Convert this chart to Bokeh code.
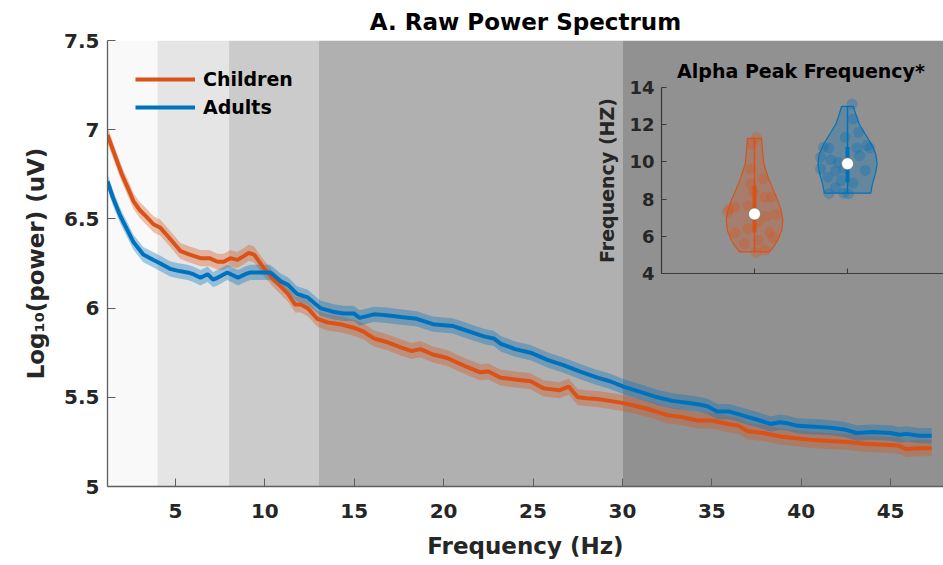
import numpy as np
from bokeh.plotting import figure
from bokeh.models import Range1d, LinearAxis, Label, Legend, LegendItem, FixedTicker
from bokeh.embed import file_html
from bokeh.resources import INLINE

FONT = "DejaVu Sans"
ORANGE = "#D95319"
BLUE = "#0072BD"
TXT = "#262626"

# ---------------- data: main spectrum ----------------
children_freq = [1.2, 1.6, 2.0, 2.4, 2.65, 3.0, 3.4, 3.77, 4.16, 4.6,
                 5.28, 5.8, 6.4, 6.9, 7.35, 7.7, 8.07, 8.45, 8.8, 9.1,
                 9.4, 9.9, 10.4, 10.9, 11.3, 11.7, 12.0, 12.4, 12.94, 13.5,
                 14.2, 14.97, 15.5, 16.1, 16.8, 17.6, 18.2, 18.7, 19.4, 20.2,
                 21.3, 22.05, 22.5, 23.2, 24.0, 24.86, 25.6, 26.5, 27.0, 27.5,
                 28.0, 28.6, 29.3, 29.9, 30.4, 30.8, 31.6, 32.5, 33.3, 34.2,
                 35.0, 35.9, 36.5, 37.0, 37.9, 38.8, 39.7, 40.7, 41.6, 42.6,
                 43.5, 44.4, 45.4, 45.9, 46.6, 47.3]
children_power = [6.97, 6.86, 6.75, 6.66, 6.60, 6.55, 6.51, 6.47, 6.45, 6.40,
                  6.32, 6.30, 6.28, 6.28, 6.26, 6.26, 6.28, 6.27, 6.29, 6.31,
                  6.30, 6.23, 6.17, 6.12, 6.08, 6.02, 6.02, 6.00, 5.94, 5.92,
                  5.91, 5.89, 5.87, 5.83, 5.81, 5.78, 5.76, 5.77, 5.74, 5.72,
                  5.67, 5.64, 5.645, 5.61, 5.60, 5.59, 5.55, 5.54, 5.56, 5.50,
                  5.495, 5.49, 5.48, 5.47, 5.46, 5.45, 5.43, 5.40, 5.39, 5.37,
                  5.37, 5.35, 5.34, 5.31, 5.30, 5.28, 5.27, 5.26, 5.255, 5.25,
                  5.24, 5.235, 5.23, 5.21, 5.215, 5.215]
adults_freq = [1.2, 1.5, 1.9, 2.3, 2.65, 3.2, 3.77, 4.16, 4.7, 5.1,
               5.67, 6.0, 6.4, 6.8, 7.1, 7.35, 7.9, 8.5, 8.9, 9.2,
               9.7, 10.3, 10.9, 11.3, 11.8, 12.4, 13.1, 13.8, 14.4, 14.97,
               15.3, 15.7, 16.1, 16.8, 17.6, 18.5, 19.4, 20.5, 21.1, 21.7,
               22.3, 22.8, 23.2, 24.0, 24.86, 25.8, 26.7, 27.6, 28.6, 29.3,
               30.06, 31.0, 31.95, 32.8, 33.6, 34.3, 34.75, 35.3, 36.0, 37.0,
               37.7, 38.3, 38.8, 39.2, 39.8, 40.7, 41.6, 42.4, 43.1, 44.0,
               45.0, 45.5, 45.9, 46.6, 47.3]
adults_power = [6.71, 6.62, 6.52, 6.44, 6.37, 6.30, 6.27, 6.25, 6.22, 6.21,
                6.20, 6.19, 6.17, 6.19, 6.16, 6.17, 6.20, 6.17, 6.19, 6.20,
                6.20, 6.20, 6.15, 6.13, 6.08, 6.06, 6.00, 5.98, 5.97, 5.97,
                5.945, 5.955, 5.965, 5.96, 5.95, 5.94, 5.91, 5.90, 5.88, 5.86,
                5.84, 5.83, 5.80, 5.77, 5.75, 5.71, 5.68, 5.645, 5.61, 5.59,
                5.56, 5.53, 5.50, 5.48, 5.47, 5.46, 5.45, 5.42, 5.42, 5.39,
                5.37, 5.35, 5.36, 5.355, 5.34, 5.335, 5.33, 5.32, 5.30, 5.305,
                5.30, 5.29, 5.295, 5.285, 5.285]
children_sem = 0.045
adults_sem = 0.043

# frequency bands (delta, theta, alpha, beta, gamma)
band_start = [0, 4, 8, 13, 30]
band_end = [4, 8, 13, 30, 60]
band_colors = ["#f9f9f9", "#e5e5e5", "#cbcbcb", "#b0b0b0", "#919191"]

x_ticks = [5, 10, 15, 20, 25, 30, 35, 40, 45]
y_ticks = [5, 5.5, 6, 6.5, 7, 7.5]
y_tick_labels = ["5", "5.5", "6", "6.5", "7", "7.5"]

# ---------------- data: inset (alpha peak frequency) ----------------
groups = ["Children", "Adults"]
group_pos = [1, 2]
children_pts_y = [11.32, 10.96, 9.63, 9.09, 8.38, 8.11, 7.48, 7.57, 7.66, 7.07,
                  7.18, 7.30, 6.77, 6.41, 6.18, 6.23, 5.93, 5.79, 5.25, 5.13,
                  5.61, 8.82, 8.11]
children_pts_dx = [0.02, -0.03, -0.04, 0.09, -0.01, 0.18, -0.27, -0.21, -0.07, 0.125,
                   0.23, -0.29, 0.04, -0.07, -0.21, 0.16, 0.20, 0.04, 0.11, 0.02,
                   -0.11, -0.04, 0.11]
adults_pts_y = [13.11, 12.30, 11.32, 11.59, 10.88, 10.79, 10.75, 10.75, 10.25, 10.11,
                9.98, 10.34, 10.75, 9.63, 9.50, 9.63, 9.18, 9.00, 8.86, 8.61,
                8.29, 8.32, 8.29, 9.54]
adults_pts_dx = [0.05, 0.06, -0.025, 0.12, 0.21, -0.26, -0.20, 0.10, -0.29, -0.18,
                 -0.10, 0.13, 0.24, -0.29, -0.13, -0.04, -0.21, -0.07, 0.06, -0.13,
                 -0.20, -0.04, 0.01, 0.19]
children_violin_y = [5.16, 5.43, 5.79, 6.32, 6.86, 7.39, 7.93, 8.55, 9.18, 9.9, 10.6, 11.27]
children_violin_hw = [0.16, 0.204, 0.25, 0.293, 0.304, 0.286, 0.25, 0.196, 0.146, 0.10, 0.086, 0.075]
adults_violin_y = [8.32, 8.82, 9.36, 9.89, 10.43, 10.96, 11.5, 12.04, 12.57, 12.98]
adults_violin_hw = [0.25, 0.268, 0.30, 0.318, 0.304, 0.257, 0.19, 0.125, 0.089, 0.064]
medians = [7.2, 9.9]
q1 = [6.2, 8.9]
q3 = [8.7, 10.8]

# ---------------- figure ----------------
p = figure(width=943, height=565, output_backend="svg", toolbar_location=None,
           x_range=Range1d(1.2, 47.96), y_range=Range1d(5, 7.5),
           min_border_left=107, min_border_top=40, min_border_bottom=79,
           min_border_right=0)
p.outline_line_color = None
p.grid.visible = False
p.background_fill_color = "white"

p.title.text = "A. Raw Power Spectrum"
p.title.align = "center"
p.title.text_font = FONT
p.title.text_font_size = "23px"
p.title.text_font_style = "bold"
p.title.text_color = "black"
p.title.standoff = 11

# bands
p.quad(left=band_start, right=band_end, bottom=p.y_range.start, top=p.y_range.end,
       fill_color=band_colors, line_color=None)

cf = np.array(children_freq); cp = np.array(children_power)
af = np.array(adults_freq); ap = np.array(adults_power)
p.varea(x=cf, y1=cp - children_sem, y2=cp + children_sem, fill_color=ORANGE, fill_alpha=0.35)
p.varea(x=af, y1=ap - adults_sem, y2=ap + adults_sem, fill_color=BLUE, fill_alpha=0.35)
lc = p.line(cf, cp, line_color=ORANGE, line_width=4)
la = p.line(af, ap, line_color=BLUE, line_width=4)

legend = Legend(items=[LegendItem(label="Children", renderers=[lc]),
                       LegendItem(label="Adults", renderers=[la])],
                location="top_left", margin=28, padding=0,
                border_line_color=None, background_fill_alpha=0,
                label_text_font=FONT, label_text_font_size="19px",
                label_text_font_style="bold", label_text_color="black",
                glyph_width=60, glyph_height=22, label_height=22,
                label_standoff=8, spacing=6)
p.add_layout(legend)

# main axes
for ax in (p.xaxis[0], p.yaxis[0]):
    ax.axis_line_color = "#5e5e5e"
    ax.axis_line_width = 1.3
    ax.major_tick_line_color = "#5e5e5e"
    ax.major_tick_in = 8
    ax.major_tick_out = 0
    ax.minor_tick_line_color = None
    ax.major_label_text_font = FONT
    ax.major_label_text_font_size = "20px"
    ax.major_label_text_font_style = "bold"
    ax.major_label_text_color = TXT
    ax.axis_label_text_font = FONT
    ax.axis_label_text_font_size = "23px"
    ax.axis_label_text_font_style = "bold"
    ax.axis_label_text_color = TXT

p.xaxis[0].ticker = FixedTicker(ticks=x_ticks)
p.xaxis[0].axis_label = "Frequency (Hz)"
p.xaxis[0].major_label_standoff = 17
p.xaxis[0].axis_label_standoff = 12
p.yaxis[0].ticker = FixedTicker(ticks=y_ticks)
p.yaxis[0].major_label_overrides = {t: s for t, s in zip(y_ticks, y_tick_labels)}
p.yaxis[0].axis_label = "Log\u2081\u2080(power) (uV)"
p.yaxis[0].major_label_standoff = 8
p.yaxis[0].axis_label_standoff = 12

# ---------------- inset ----------------
p.extra_x_ranges = {"inset": Range1d(-5.957, 3.032)}
p.extra_y_ranges = {"inset": Range1d(-7.452, 16.527)}

def violin(pos, ys, hw, color, pts_y, pts_dx):
    ys = np.array(ys); hw = np.array(hw)
    xs = np.concatenate([pos + hw, (pos - hw)[::-1]])
    yy = np.concatenate([ys, ys[::-1]])
    p.patch(xs, yy, fill_color=color, fill_alpha=0.3, line_color=color, line_width=1.2,
            x_range_name="inset", y_range_name="inset")
    p.scatter(pos + np.array(pts_dx), pts_y, size=11, fill_color=color, fill_alpha=0.3,
              line_color=None, x_range_name="inset", y_range_name="inset")

violin(group_pos[0], children_violin_y, children_violin_hw, ORANGE, children_pts_y, children_pts_dx)
violin(group_pos[1], adults_violin_y, adults_violin_hw, BLUE, adults_pts_y, adults_pts_dx)

colors = [ORANGE, BLUE]
lows = [children_violin_y[0], adults_violin_y[0]]
highs = [children_violin_y[-1], adults_violin_y[-1]]
p.segment(x0=group_pos, y0=lows, x1=group_pos, y1=highs, line_color=colors, line_width=1.5,
          x_range_name="inset", y_range_name="inset")
p.segment(x0=group_pos, y0=q1, x1=group_pos, y1=q3, line_color=colors, line_width=4,
          x_range_name="inset", y_range_name="inset")
p.scatter(group_pos, medians, size=12, fill_color="white", line_color="#666666", line_width=0.6,
          x_range_name="inset", y_range_name="inset")

iy = LinearAxis(x_range_name="inset", y_range_name="inset", fixed_location=0,
                bounds=(4, 14), ticker=FixedTicker(ticks=[4, 6, 8, 10, 12, 14]),
                axis_label="Frequency (HZ)")
ix = LinearAxis(x_range_name="inset", y_range_name="inset", fixed_location=4,
                bounds=(0, 3.1), ticker=FixedTicker(ticks=group_pos),
                major_label_overrides={1: "", 2: ""})
for ax in (iy, ix):
    ax.axis_line_color = "#3a3a3a"
    ax.axis_line_width = 1.2
    ax.major_tick_line_color = "#3a3a3a"
    ax.major_tick_in = 5
    ax.major_tick_out = 0
    ax.minor_tick_line_color = None
    ax.major_label_text_font = FONT
    ax.major_label_text_font_size = "18px"
    ax.major_label_text_font_style = "bold"
    ax.major_label_text_color = TXT
    ax.axis_label_text_font = FONT
    ax.axis_label_text_font_size = "19px"
    ax.axis_label_text_font_style = "bold"
    ax.axis_label_text_color = TXT
iy.major_label_standoff = 7
iy.axis_label_standoff = 8
p.add_layout(iy, "left")
p.add_layout(ix, "below")

p.add_layout(Label(x=1.5, y=14.9, x_range_name="inset", y_range_name="inset",
                   text="Alpha Peak Frequency*", text_align="center", text_baseline="middle",
                   text_font=FONT, text_font_size="19px", text_font_style="bold",
                   text_color="black"))

open("out.html", "w").write(file_html(p, INLINE))
